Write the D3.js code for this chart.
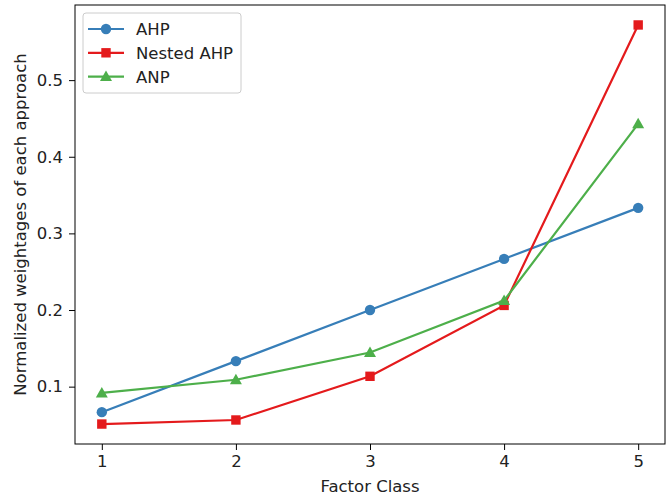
<!DOCTYPE html>
<html>
<head>
<meta charset="utf-8">
<script src="https://cdn.jsdelivr.net/npm/d3@7"></script>
<style>
  body { margin: 0; background: #fff; }
  svg text { font-family: "DejaVu Sans", sans-serif; fill: #222; }
</style>
</head>
<body>
<div id="plot"></div>
<script>
// data
var factorClass = [1, 2, 3, 4, 5];
var ahp = [0.0667, 0.1333, 0.2, 0.2667, 0.3333];
var nestedAhp = [0.0512, 0.0565, 0.1135, 0.206, 0.572];
var anp = [0.0918, 0.109, 0.1445, 0.2124, 0.443];
var yTicks = [0.1, 0.2, 0.3, 0.4, 0.5];

var seriesList = [
  {name: 'AHP', values: ahp, color: '#377eb8', marker: 'circle'},
  {name: 'Nested AHP', values: nestedAhp, color: '#e41a1c', marker: 'square'},
  {name: 'ANP', values: anp, color: '#4daf4a', marker: 'triangle'}
];

var fontSize = '16.5px';
var W = 671, H = 502;
var margin = {t: 5, r: 6, b: 58, l: 75};
var width = W - margin.l - margin.r,
    height = H - margin.t - margin.b;

var svg = d3.select('#plot')
  .append('svg')
  .attr('width', W)
  .attr('height', H);

var plot = svg.append('g')
  .attr('transform', 'translate(' + margin.l + ',' + margin.t + ')');

// matplotlib-like 5% padding
var allY = ahp.concat(nestedAhp, anp);
var yMin = d3.min(allY), yMax = d3.max(allY), yPad = (yMax - yMin) * 0.05;

var x = d3.scaleLinear().domain([0.8, 5.2]).range([0, width]);
var y = d3.scaleLinear().domain([yMin - yPad, yMax + yPad]).range([height, 0]);

// axes
var xAxis = plot.append('g')
  .attr('transform', 'translate(0,' + height + ')')
  .call(d3.axisBottom(x).tickValues(factorClass).tickFormat(d3.format('d')).tickSize(6).tickPadding(5));
var yAxis = plot.append('g')
  .call(d3.axisLeft(y).tickValues(yTicks).tickFormat(d3.format('.1f')).tickSize(6).tickPadding(6));

[xAxis, yAxis].forEach(function (ax) {
  ax.select('.domain').remove();
  ax.selectAll('line').attr('stroke', '#000').attr('stroke-width', 1);
  ax.selectAll('text').style('font-size', fontSize).style('font-family', '"DejaVu Sans", sans-serif').attr('fill', '#222');
});

plot.append('rect')
  .attr('x', 0).attr('y', 0)
  .attr('width', width).attr('height', height)
  .attr('fill', 'none')
  .attr('stroke', '#000')
  .attr('stroke-width', 1);

// axis labels
svg.append('text')
  .attr('x', margin.l + width / 2)
  .attr('y', 492)
  .attr('text-anchor', 'middle')
  .style('font-size', fontSize)
  .text('Factor Class');

svg.append('text')
  .attr('transform', 'translate(26,' + (margin.t + height / 2) + ') rotate(-90)')
  .attr('text-anchor', 'middle')
  .style('font-size', fontSize)
  .text('Normalized weightages of each approach');

// markers
function drawMarker(g, type, cx, cy, color) {
  if (type == 'circle') {
    g.append('circle').attr('cx', cx).attr('cy', cy).attr('r', 5.2).attr('fill', color);
  } else if (type == 'square') {
    g.append('rect').attr('x', cx - 4.7).attr('y', cy - 4.7).attr('width', 9.4).attr('height', 9.4).attr('fill', color);
  } else {
    g.append('path')
      .attr('d', 'M' + cx + ',' + (cy - 6) + 'L' + (cx + 6) + ',' + (cy + 4.5) + 'L' + (cx - 6) + ',' + (cy + 4.5) + 'Z')
      .attr('fill', color);
  }
}

var line = d3.line()
  .x(function (d, i) { return x(factorClass[i]); })
  .y(function (d) { return y(d); });

seriesList.forEach(function (s) {
  var g = plot.append('g');
  g.append('path')
    .attr('d', line(s.values))
    .attr('fill', 'none')
    .attr('stroke', s.color)
    .attr('stroke-width', 2.2);
  s.values.forEach(function (v, i) {
    drawMarker(g, s.marker, x(factorClass[i]), y(v), s.color);
  });
});

// legend
var legend = svg.append('g').attr('transform', 'translate(83,13)');
legend.append('rect')
  .attr('width', 158).attr('height', 80)
  .attr('rx', 3)
  .attr('fill', '#fff').attr('fill-opacity', 0.8)
  .attr('stroke', '#ccc');

seriesList.forEach(function (s, i) {
  var ly = 16 + i * 23.8;
  legend.append('line')
    .attr('x1', 5).attr('x2', 41)
    .attr('y1', ly).attr('y2', ly)
    .attr('stroke', s.color).attr('stroke-width', 2.2);
  drawMarker(legend, s.marker, 23, ly, s.color);
  legend.append('text')
    .attr('x', 53).attr('y', ly + 6)
    .style('font-size', fontSize)
    .text(s.name);
});
</script>
</body>
</html>
